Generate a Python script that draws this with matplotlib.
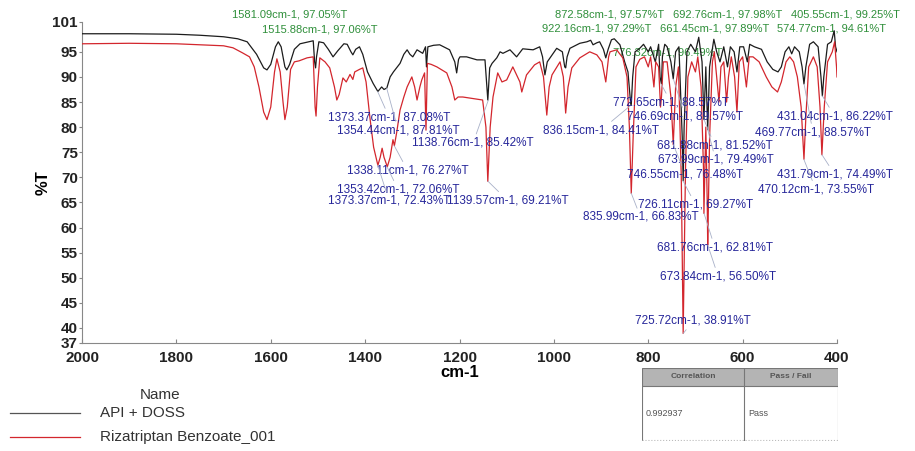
import matplotlib
matplotlib.use("Agg")
import matplotlib.pyplot as plt
from matplotlib.lines import Line2D
from matplotlib.patches import Rectangle

plt.rcParams['font.family'] = ['Liberation Sans', 'DejaVu Sans']

# API + DOSS (black trace): wavenumber, %T
api_wn = [2000, 1900, 1800, 1750, 1700, 1670, 1650, 1630, 1615, 1608, 1600, 1590, 1584, 1578, 1570,
          1566, 1560, 1550, 1538, 1520, 1510, 1507, 1505, 1503, 1498, 1488, 1478, 1468, 1458, 1445,
          1438, 1430, 1426, 1420, 1412, 1405, 1395, 1383, 1373, 1365, 1360, 1354, 1347, 1340, 1326,
          1318, 1311, 1305, 1299, 1290, 1278, 1272, 1270, 1267, 1255, 1242, 1221, 1210, 1206, 1202,
          1199, 1185, 1163, 1146, 1140, 1136, 1131, 1121, 1114, 1108, 1093, 1079, 1066, 1044, 1030,
          1024, 1019, 1014, 1008, 994, 982, 977, 975, 972, 966, 945, 930, 922, 917, 909,
          903, 895, 890, 885, 878, 872, 860, 850, 843, 838, 836, 833, 828, 818, 810,
          800, 795, 785, 778, 775, 772, 770, 765, 760, 752, 747, 742, 735, 728, 726,
          724, 718, 710, 700, 693, 686, 682, 678, 674, 670, 661, 655, 648, 640, 632,
          626, 618, 612, 606, 598, 590, 585, 575, 560, 548, 536, 525, 518, 510, 502,
          496, 490, 480, 474, 470, 466, 458, 450, 440, 434, 431, 428, 420, 412, 406,
          403, 400]
api_t = [98.6, 98.6, 98.5, 98.3, 98.0, 97.6, 97.0, 94.5, 91.8, 91.4, 92.5, 96.0, 97.0, 96.0, 92.0,
         91.4, 92.5, 95.5, 96.6, 97.0, 97.2, 93.0, 91.8, 94.0, 97.0, 96.8, 95.5, 94.0, 95.2, 96.6,
         96.5, 95.0, 94.4, 95.5, 96.0, 94.5, 91.0, 88.7, 87.1, 88.0, 87.5, 87.8, 90.0, 91.0, 92.7,
         94.5, 95.4, 94.5, 94.0, 95.4, 94.7, 96.0, 92.0, 96.0, 96.3, 96.4, 95.4, 93.0, 90.8, 93.5,
         94.0, 94.0, 93.4, 93.4, 85.4, 91.8, 92.7, 93.8, 95.0, 94.7, 95.4, 94.0, 95.6, 95.4, 96.0,
         94.0, 90.4, 93.0, 93.8, 95.7, 95.0, 92.0, 91.8, 94.0, 95.7, 96.7, 97.0, 97.3, 96.4, 96.8,
         97.0, 95.5, 93.8, 95.5, 97.4, 97.6, 96.4, 93.0, 91.0, 85.5, 84.4, 90.0, 95.0, 95.7, 96.5,
         95.0, 96.0, 93.0, 96.5, 90.0, 88.6, 94.0, 96.5, 96.0, 93.0, 89.6, 95.0, 96.0, 78.0, 69.3,
         80.0, 95.0, 96.5, 95.0, 97.9, 93.0, 81.5, 92.0, 79.5, 92.0, 97.5, 95.0, 93.0, 96.0, 92.0,
         96.0, 95.0, 91.0, 96.0, 96.0, 93.0, 96.5, 96.0, 95.5, 93.0, 91.5, 91.0, 92.0, 95.0, 96.0,
         94.6, 96.0, 95.0, 92.0, 88.6, 92.0, 96.5, 97.0, 96.0, 90.0, 86.2, 90.0, 96.5, 97.0, 99.2,
         96.0, 95.0]

# Rizatriptan Benzoate_001 (red trace)
riz_wn = [2000, 1900, 1800, 1750, 1700, 1680, 1660, 1645, 1635, 1625, 1615, 1608, 1600, 1592, 1587,
          1580, 1574, 1570, 1565, 1558, 1550, 1540, 1523, 1510, 1506, 1504, 1501, 1496, 1485, 1475,
          1465, 1460, 1455, 1447, 1440, 1432, 1426, 1422, 1412, 1405, 1398, 1390, 1382, 1373, 1368,
          1364, 1360, 1353, 1347, 1341, 1338, 1333, 1326, 1318, 1311, 1301, 1295, 1290, 1284, 1280,
          1274, 1271, 1268, 1260, 1248, 1227, 1216, 1210, 1203, 1193, 1172, 1151, 1144, 1140, 1135,
          1129, 1119, 1110, 1100, 1087, 1079, 1072, 1068, 1058, 1041, 1030, 1022, 1015, 1010, 1004,
          987, 980, 975, 970, 962, 945, 924, 909, 898, 890, 884, 881, 867, 854, 845,
          840, 836, 832, 826, 818, 808, 800, 795, 788, 784, 778, 774, 772, 768, 760,
          752, 747, 742, 736, 730, 726, 721, 716, 708, 700, 695, 688, 683, 682, 678,
          675, 674, 670, 664, 660, 655, 650, 646, 640, 634, 630, 624, 617, 612, 607,
          600, 592, 586, 578, 565, 550, 538, 526, 518, 508, 500, 492, 484, 476, 470,
          466, 460, 450, 442, 436, 432, 427, 420, 410, 405, 401, 400]
riz_t = [96.6, 96.7, 96.6, 96.4, 96.2, 95.8, 94.8, 94.0, 92.0, 88.0, 83.0, 81.5, 84.0, 91.0, 93.6,
         91.0, 85.0, 81.5, 84.0, 91.5, 93.0, 93.2, 93.8, 94.0, 84.0, 82.2, 88.0, 93.8, 93.0, 91.8,
         88.0, 85.4, 86.5, 89.8, 89.0, 90.5, 89.5, 91.0, 91.5, 91.8, 89.0, 82.0, 76.0, 72.4, 74.0,
         75.8, 74.0, 72.1, 74.0, 77.5, 76.3, 79.0, 83.4, 86.0, 88.0, 90.0, 88.0, 85.4, 88.0, 89.4,
         90.8, 79.4, 92.7, 92.5, 92.0, 90.8, 88.0, 85.4, 86.0, 86.0, 85.7, 85.4, 80.0, 69.2, 80.0,
         86.0, 90.8, 89.0, 89.4, 92.0, 90.4, 89.0, 87.0, 90.4, 92.4, 93.0, 90.0, 82.4, 88.0, 90.4,
         93.0, 90.0, 82.8, 88.0, 91.8, 93.8, 95.0, 94.4, 93.0, 89.0, 94.0, 95.0, 95.4, 93.8, 90.0,
         80.0, 66.8, 78.0, 92.0, 93.5, 94.0, 92.0, 94.0, 88.0, 93.0, 92.0, 84.0, 86.0, 93.0, 93.0,
         86.0, 76.5, 88.0, 92.0, 70.0, 38.9, 72.0, 90.0, 93.0, 91.0, 94.0, 88.0, 72.0, 62.8, 80.0,
         65.0, 56.5, 78.0, 93.0, 95.0, 90.0, 85.0, 92.0, 93.0, 85.0, 90.0, 94.0, 90.0, 83.0, 93.0,
         94.0, 88.0, 94.0, 94.0, 93.0, 90.0, 88.0, 87.0, 89.0, 93.0, 94.0, 93.0, 90.0, 84.0, 73.6,
         82.0, 92.0, 94.0, 92.0, 84.0, 74.5, 84.0, 93.0, 95.0, 97.0, 92.0, 90.0]

# picked peaks (minima, blue labels)
min_wn = [1373.37, 1354.44, 1138.76, 836.15, 1338.11, 1353.42, 1373.37, 1139.57, 835.99,
          772.65, 746.69, 431.04, 469.77, 681.88, 673.99, 746.55, 431.79, 470.12, 726.11,
          681.76, 673.84, 725.72]
min_t = [87.08, 87.81, 85.42, 84.41, 76.27, 72.06, 72.43, 69.21, 66.83,
         88.57, 89.57, 86.22, 88.57, 81.52, 79.49, 76.48, 74.49, 73.55, 69.27,
         62.81, 56.50, 38.91]
# label anchor (left edge) for each minimum label
min_pos = [(1479, 82.0), (1460, 79.4), (1300, 76.9), (1023, 79.4), (1439, 71.4), (1460, 67.6),
           (1479, 65.4), (1227, 65.4), (939, 62.1), (875, 85.0), (845, 82.2), (528, 82.2),
           (574, 79.0), (782, 76.4), (780, 73.5), (845, 70.6), (528, 70.6), (568, 67.6),
           (822, 64.6), (782, 56.1), (775, 50.3), (828, 41.4)]

# picked peaks (maxima, green labels)
max_wn = [1581.09, 1515.88, 872.58, 692.76, 405.55, 922.16, 661.45, 574.77, 776.32]
max_t = [97.05, 97.06, 97.57, 97.98, 99.25, 97.29, 97.89, 94.61, 96.49]
max_pos = [(1682, 102.5), (1619, 99.5), (998, 102.5), (748, 102.5), (498, 102.5),
           (1025, 99.7), (775, 99.7), (527, 99.7), (875, 94.8)]

fig = plt.figure(figsize=(9.15, 4.51), dpi=100)
ax = fig.add_axes([82 / 915, 1 - 343 / 451, 755 / 915, 321.3 / 451])

for wn, t, pos in zip(max_wn, max_t, max_pos):
    ax.text(pos[0], pos[1], f"{wn:.2f}cm-1, {t:.2f}%T", color='#2f8f3a', fontsize=8,
            va='center', ha='left', zorder=1, clip_on=False)

ax.plot(api_wn, api_t, color='#1c1c1c', lw=0.9, zorder=3)
ax.plot(riz_wn, riz_t, color='#d3262d', lw=0.9, zorder=4)

for wn, t, pos in zip(min_wn, min_t, min_pos):
    ax.annotate(f"{wn:.2f}cm-1, {t:.2f}%T", xy=(wn, t), xytext=pos,
                color='#26269a', fontsize=8.5, va='center', ha='left', zorder=5,
                arrowprops=dict(arrowstyle='-', color='#a8b0c8', lw=0.6, shrinkA=0, shrinkB=0))

ax.set_xlim(2000, 400)
ax.set_ylim(37, 101)
ax.set_xticks(range(2000, 399, -200))
ax.set_yticks([37, 40, 45, 50, 55, 60, 65, 70, 75, 80, 85, 90, 95, 101])
ax.tick_params(axis='x', direction='in', length=3, color='#888888', labelsize=11, pad=6)
ax.tick_params(axis='y', direction='out', length=2, color='#888888', labelsize=11, pad=1)
for lab in ax.get_xticklabels() + ax.get_yticklabels():
    lab.set_fontweight('bold')
    lab.set_color('#222222')
for s in ['top', 'right']:
    ax.spines[s].set_visible(False)
for s in ['left', 'bottom']:
    ax.spines[s].set_color('#888888')
    ax.spines[s].set_linewidth(0.8)
ax.set_xlabel("cm-1", fontsize=12, fontweight='bold', labelpad=0)
ax.set_ylabel("%T", fontsize=12, fontweight='bold', labelpad=1)

# legend block
fig.text(160 / 915, 1 - 395 / 451, "Name", fontsize=11, color='#333333', ha='center', va='center')
fig.add_artist(Line2D([10 / 915, 80 / 915], [1 - 413 / 451] * 2, color='#555555', lw=0.9))
fig.add_artist(Line2D([10 / 915, 80 / 915], [1 - 437 / 451] * 2, color='#d3262d', lw=0.9))
fig.text(100 / 915, 1 - 413 / 451, "API + DOSS", fontsize=11, color='#333333', va='center')
fig.text(100 / 915, 1 - 437 / 451, "Rizatriptan Benzoate_001", fontsize=11, color='#333333', va='center')

# correlation table
tax = fig.add_axes([642 / 915, 1 - 441 / 451, 196 / 915, 73 / 451])
tax.set_xlim(0, 196)
tax.set_ylim(73, 0)
tax.axis('off')
tax.add_patch(Rectangle((0, 0), 196, 18, facecolor='#b4b4b4', edgecolor='#777777', lw=0.8))
tax.plot([0, 0], [18, 72], color='#777777', lw=0.8)
tax.plot([196, 196], [18, 72], color='#777777', lw=0.8)
tax.plot([102, 102], [0, 72], color='#777777', lw=0.8)
tax.plot([0, 196], [72, 72], color='#bbbbbb', lw=0.8, ls=':')
tax.text(51, 9, "Correlation", fontsize=6, fontweight='bold', color='#555555', ha='center', va='center')
tax.text(149, 9, "Pass / Fail", fontsize=6, fontweight='bold', color='#555555', ha='center', va='center')
tax.text(4, 45, "0.992937", fontsize=6.5, color='#555555', va='center')
tax.text(106, 45, "Pass", fontsize=6.5, color='#555555', va='center')

fig.savefig("out.png", dpi=100)
